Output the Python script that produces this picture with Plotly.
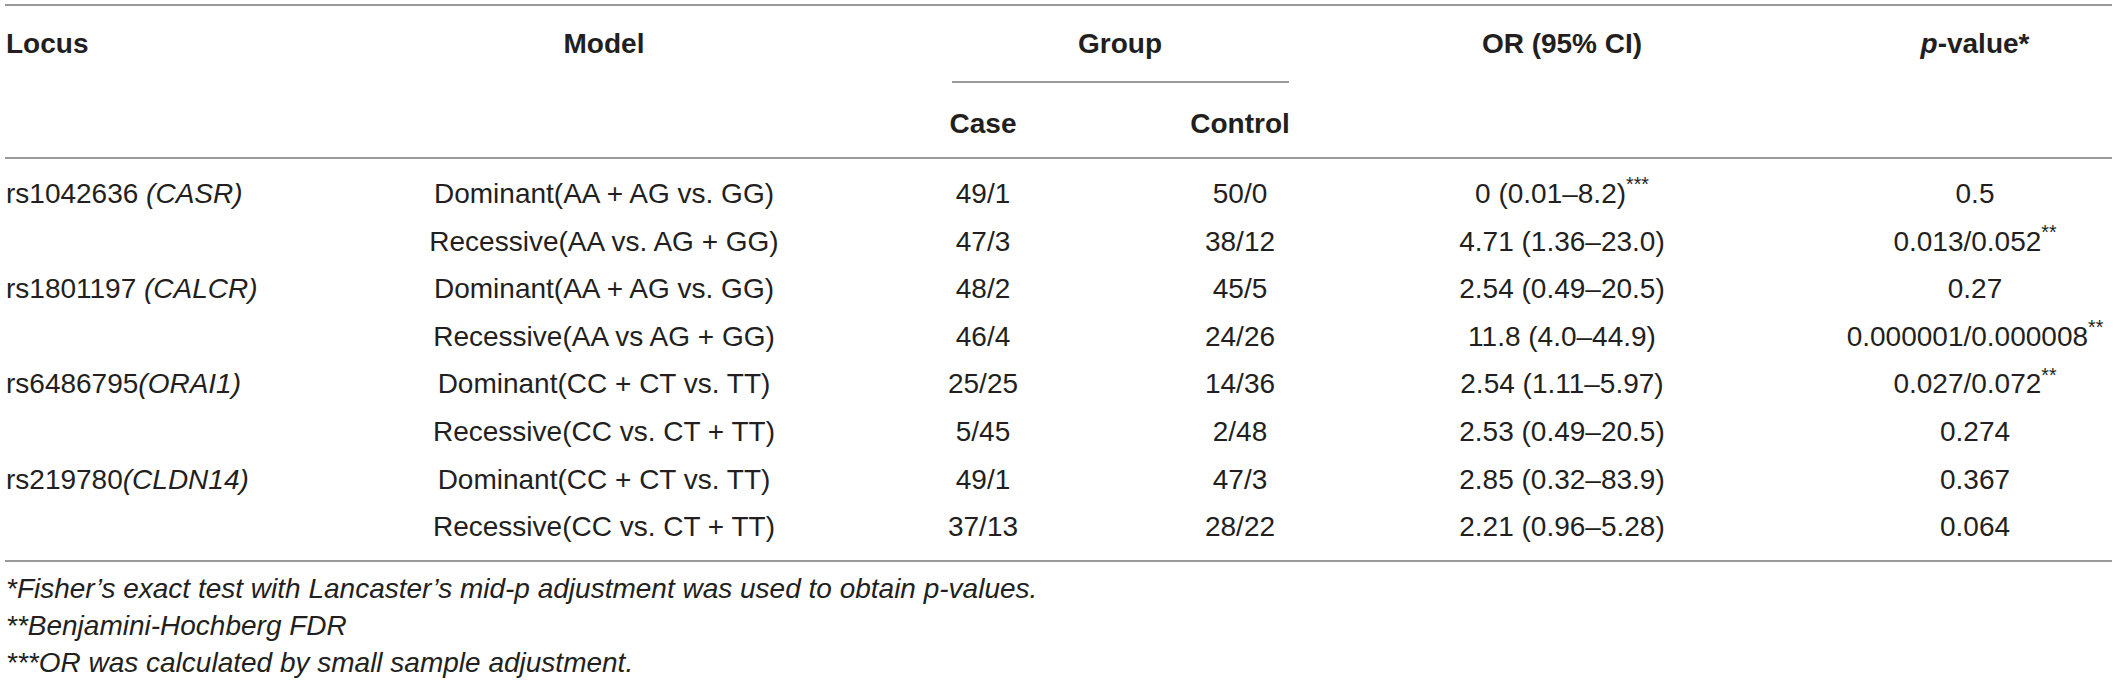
import plotly.graph_objects as go

# ---------------- data ----------------
headers_top = ["Locus", "Model", "Group", "OR (95% CI)", "<i>p</i>-value*"]
headers_sub = ["Case", "Control"]

loci = ["rs1042636 <i>(CASR)</i>", "rs1801197 <i>(CALCR)</i>",
        "rs6486795<i>(ORAI1)</i>", "rs219780<i>(CLDN14)</i>"]
models_per_locus = 2
models = ["Dominant(AA + AG vs. GG)", "Recessive(AA vs. AG + GG)",
          "Dominant(AA + AG vs. GG)", "Recessive(AA vs AG + GG)",
          "Dominant(CC + CT vs. TT)", "Recessive(CC vs. CT + TT)",
          "Dominant(CC + CT vs. TT)", "Recessive(CC vs. CT + TT)"]
case_vals = ["49/1", "47/3", "48/2", "46/4", "25/25", "5/45", "49/1", "37/13"]
control_vals = ["50/0", "38/12", "45/5", "24/26", "14/36", "2/48", "47/3", "28/22"]
or_ci = ["0 (0.01–8.2)<sup>***</sup>", "4.71 (1.36–23.0)", "2.54 (0.49–20.5)",
         "11.8 (4.0–44.9)", "2.54 (1.11–5.97)", "2.53 (0.49–20.5)",
         "2.85 (0.32–83.9)", "2.21 (0.96–5.28)"]
p_values = ["0.5", "0.013/0.052<sup>**</sup>", "0.27", "0.000001/0.000008<sup>**</sup>",
            "0.027/0.072<sup>**</sup>", "0.274", "0.367", "0.064"]
footnotes = ["*Fisher’s exact test with Lancaster’s mid-p adjustment was used to obtain p-values.",
             "**Benjamini-Hochberg FDR",
             "***OR was calculated by small sample adjustment."]

# ---------------- layout constants ----------------
W, H = 2117, 684
FONT = "Liberation Sans, Arial, Helvetica, sans-serif"
FS = 28
TXT = "#231f20"
LINE = "#9a9a9a"

X_LOCUS = 6
X_MODEL = 604
X_CASE = 983
X_CONTROL = 1240
X_GROUP = 1120
X_OR = 1562
X_P = 1975

Y_HEAD1 = 46
Y_HEAD2 = 126
ROW0 = 196
ROW_STEP = 47.6
FOOT0 = 591
FOOT_STEP = 37

n = len(models)
row_y = [ROW0 + i * ROW_STEP for i in range(n)]
locus_y = [row_y[i * models_per_locus] for i in range(len(loci))]

fig = go.Figure()

def text_trace(xs, ys, texts, pos, bold=False, italic=False):
    fig.add_trace(go.Scatter(
        x=xs, y=ys, text=texts, mode="text", textposition=pos,
        textfont=dict(family=FONT, size=FS, color=TXT,
                      weight="bold" if bold else "normal",
                      style="italic" if italic else "normal"),
        hoverinfo="skip", showlegend=False, cliponaxis=False))

# headers
text_trace([X_LOCUS], [Y_HEAD1], [headers_top[0]], "middle right", bold=True)
text_trace([X_MODEL, X_GROUP, X_OR, X_P], [Y_HEAD1] * 4, headers_top[1:], "middle center", bold=True)
text_trace([X_CASE, X_CONTROL], [Y_HEAD2] * 2, headers_sub, "middle center", bold=True)

# body
text_trace([X_LOCUS] * len(loci), locus_y, loci, "middle right")
text_trace([X_MODEL] * n, row_y, models, "middle center")
text_trace([X_CASE] * n, row_y, case_vals, "middle center")
text_trace([X_CONTROL] * n, row_y, control_vals, "middle center")
text_trace([X_OR] * n, row_y, or_ci, "middle center")
text_trace([X_P] * n, row_y, p_values, "middle center")

# footnotes
text_trace([X_LOCUS] * len(footnotes), [FOOT0 + i * FOOT_STEP for i in range(len(footnotes))],
           footnotes, "middle right", italic=True)

# rules
shapes = []
for y in (5, 158, 561):
    shapes.append(dict(type="line", xref="x", yref="y", x0=5, x1=2112, y0=y, y1=y,
                       line=dict(color=LINE, width=2)))
shapes.append(dict(type="line", xref="x", yref="y", x0=952, x1=1289, y0=82, y1=82,
                   line=dict(color=LINE, width=2)))

fig.update_layout(
    width=W, height=H, autosize=False,
    margin=dict(l=0, r=0, t=0, b=0, pad=0),
    paper_bgcolor="white", plot_bgcolor="white",
    shapes=shapes,
    xaxis=dict(range=[0, W], visible=False, fixedrange=True),
    yaxis=dict(range=[H, 0], visible=False, fixedrange=True),
)

fig.write_html("out.html", config={"displayModeBar": False, "staticPlot": True},
               post_script="document.body.style.margin='0';document.body.style.overflow='hidden';")
